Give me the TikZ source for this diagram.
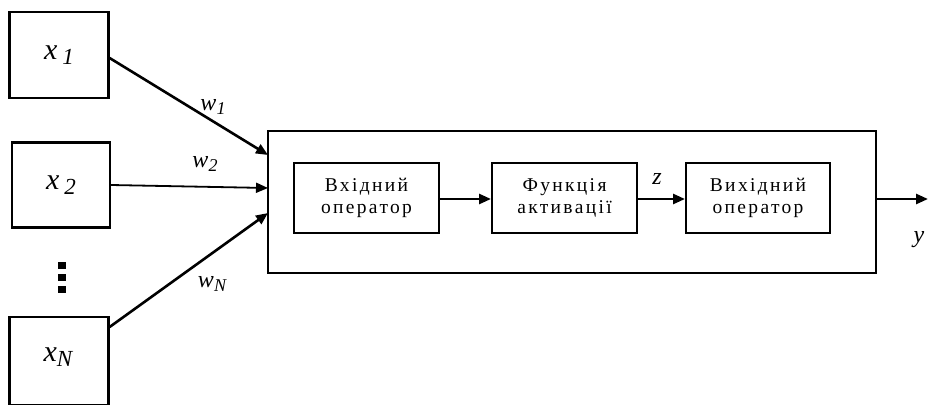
\documentclass[tikz,border=0pt]{standalone}
\usepackage{fontspec}
\setmainfont{Liberation Serif}
\newfontfamily\spaced[LetterSpace=12]{Liberation Serif}
\usetikzlibrary{arrows.meta}
\begin{document}
\begin{tikzpicture}[x=1pt,y=-1pt,
  box/.style={draw,line width=2.2pt,inner sep=0pt},
  inbox/.style={draw,line width=2pt,inner sep=0pt,minimum width=145pt,minimum height=70pt,align=center,font=\spaced\fontsize{19.5}{21.5}\selectfont},
  arr/.style={line width=2.6pt,-{Triangle[length=12pt,width=10pt]}},
  lab/.style={font=\itshape\fontsize{24}{26}\selectfont},
  xlab/.style={font=\itshape\fontsize{30}{32}\selectfont}]
\useasboundingbox (0,0) rectangle (928,404);
\node[box,minimum width=99pt,minimum height=86pt] (x1) at (59,55) {};
\node[xlab] at (x1) {x\,\raisebox{-0.35ex}{\fontsize{23}{25}\selectfont 1}};
\node[box,minimum width=98pt,minimum height=85pt] (x2) at (61,185) {};
\node[xlab] at (x2) {x\,\raisebox{-0.35ex}{\fontsize{23}{25}\selectfont 2}};
\node[box,minimum width=99pt,minimum height=88pt] (xN) at (59,361) {};
\node[xlab] at (58,357) {x\raisebox{-0.35ex}{\fontsize{23}{25}\selectfont N}};
\foreach \yy in {262,274,286} \fill (58,\yy) rectangle (66,\yy+7);
\node[box,minimum width=608pt,minimum height=142pt] (main) at (572,202) {};
\node[inbox] (in) at (366.5,198) {Вхідний\\оператор};
\node[inbox,minimum width=145pt] (act) at (564.5,198) {Функція\\активації};
\node[inbox,minimum width=144pt] (out) at (758,198) {Вихідний\\оператор};
\coordinate (t1) at (268,155);
\coordinate (t2) at (268,188);
\coordinate (t3) at (268,213);
\draw[arr] (x1.east |- 0,58) -- (t1);
\draw[arr,line width=1.8pt] (x2.east) -- (t2);
\draw[arr] (xN.east |- 0,327) -- (t3);
\draw[arr] (in.east |- 0,199) -- (act.west |- 0,199);
\draw[arr] (act.east |- 0,199) -- (out.west |- 0,199);
\coordinate (yend) at (928,199);
\draw[arr] (main.east |- 0,199) -- (yend);
\node[lab] at (213,107) {w\raisebox{-0.35ex}{\fontsize{18}{20}\selectfont 1}};
\node[lab] at (205,164) {w\raisebox{-0.35ex}{\fontsize{18}{20}\selectfont 2}};
\node[lab] at (212,284) {w\raisebox{-0.35ex}{\fontsize{18}{20}\selectfont N}};
\node[lab] at (657,179) {z};
\node[lab] at (919,240) {y};
\end{tikzpicture}
\end{document}
